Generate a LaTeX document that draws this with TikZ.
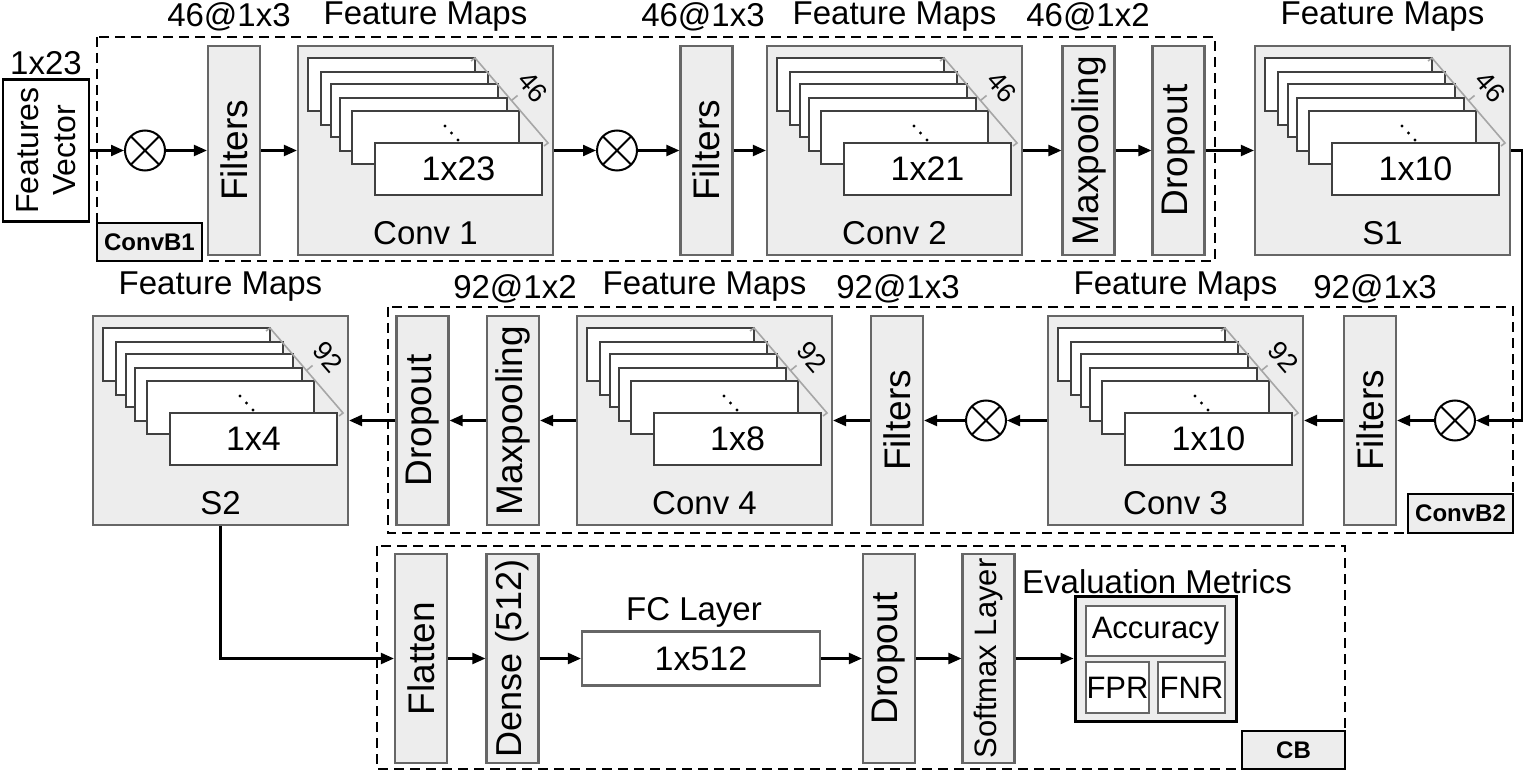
\documentclass[tikz,border=0pt]{standalone}
\usepackage{fontspec}
\setmainfont{Liberation Sans}
\usetikzlibrary{arrows.meta}

\begin{document}
\begin{tikzpicture}[x=1pt,y=-1pt,
  every node/.style={inner sep=0pt},
  lbl/.style={font=\fontsize{33}{36}\selectfont},
  layer/.style={draw=black!60,fill=black!7,line width=2.2pt,rotate=90,minimum width=209pt,minimum height=52pt,font=\fontsize{37}{40}\selectfont},
  fmbox/.style={draw=black!60,fill=black!7,line width=2.2pt,minimum width=255pt,minimum height=209pt},
  sheet/.style={draw=black!75,fill=white,line width=2pt},
  wbox/.style={draw=black!60,fill=white,line width=2.2pt,font=\fontsize{31}{34}\selectfont},
  grp/.style={dash pattern=on 10pt off 6pt,line width=2pt},
  tag/.style={draw,fill=black!7,line width=2pt,font=\fontsize{24}{26}\selectfont\bfseries},
  prod/.style={circle,draw,fill=white,line width=2pt,minimum size=40pt,
    path picture={\draw[line width=2pt] (path picture bounding box.north west) -- (path picture bounding box.south east)
      (path picture bounding box.north east) -- (path picture bounding box.south west);}},
  arr/.style={-{Triangle[length=13pt,width=11pt]},line width=2.2pt},
]
\useasboundingbox (0,0) rectangle (1528,775);

\foreach \id/\L/\T/\num/\sz/\cap in {conv1/298/46/46/1x23/Conv 1,conv2/767/46/46/1x21/Conv 2,s1/1255/46/46/1x10/S1,
  conv3/1048/316/92/1x10/Conv 3,conv4/577/316/92/1x8/Conv 4,s2/93/316/92/1x4/S2}
{
  \begin{scope}[shift={(\L,\T)}]
    \node[fmbox] (\id) at (127.5,104.5) {};
    \foreach \dx/\dy in {10/12,23/26,33/38,42/52,54/65}
      \draw[sheet] (\dx,\dy) rectangle ++(167,53);
    \node[sheet,minimum width=167pt,minimum height=52pt,font=\fontsize{34}{36}\selectfont] at (160.5,123) {\sz};
    \foreach \p in {0,1,2}
      \fill (147+6.5*\p,80+7*\p) circle (1.7);
    \draw[gray!70,line width=1.6pt] (173,15) -- (177,12) -- (250,97) -- (246,100);
    \draw[gray!70,line width=1.6pt] (213.5,54.5) -- (219.5,49.5);
    \node[rotate=-49,font=\fontsize{27}{28}\selectfont] at (235,41) {\num};
    \node[lbl] at (127.5,187) {\cap};
    \node[lbl] at (127.5,-29) {Feature Maps};
  \end{scope}
}

\node[draw,line width=2.2pt,fill=white,rotate=90,minimum width=142pt,minimum height=86pt,align=center,
  font=\fontsize{32}{37}\selectfont] (fv) at (46,150.5) {Features\\Vector};
\node[lbl] at (46,63) {1x23};
\node[prod] (ox1) at (145,150.5) {};
\node[layer] (f1) at (234,150.5) {Filters};
\node[lbl] at (229,17) {46@1x3};
\node[prod] (ox2) at (617,150.5) {};
\node[layer] (f2) at (706.5,150.5) {Filters};
\node[lbl] at (703,17) {46@1x3};
\node[layer] (mp1) at (1088.5,150.5) {Maxpooling};
\node[lbl] at (1088,17) {46@1x2};
\node[layer] (do1) at (1178.5,150.5) {Dropout};
\draw[grp] (97,37) rectangle (1215,261);
\node[tag,minimum width=105pt,minimum height=38pt] (tb1) at (149.5,242) {ConvB1};

\draw[arr] (fv) -- (ox1);
\draw[arr] (ox1) -- (f1);
\draw[arr] (f1) -- (conv1);
\draw[arr] (conv1) -- (ox2);
\draw[arr] (ox2) -- (f2);
\draw[arr] (f2) -- (conv2);
\draw[arr] (conv2) -- (mp1);
\draw[arr] (mp1) -- (do1);
\draw[arr] (do1) -- (s1);

\node[prod] (ox3) at (1455,420.5) {};
\node[layer] (f3) at (1370,420.5) {Filters};
\node[lbl] at (1375,289) {92@1x3};
\node[prod] (ox4) at (986,420.5) {};
\node[layer] (f4) at (897,420.5) {Filters};
\node[lbl] at (898,289) {92@1x3};
\node[layer] (mp2) at (513,420.5) {Maxpooling};
\node[lbl] at (515,289) {92@1x2};
\node[layer] (do2) at (422.5,420.5) {Dropout};
\draw[grp] (388,307) rectangle (1513,533);
\node[tag,minimum width=105pt,minimum height=39pt] (tb2) at (1460.5,513.5) {ConvB2};

\draw[arr] (s1.east) -- ++(11,0) |- (ox3);
\draw[arr] (ox3) -- (f3);
\draw[arr] (f3) -- (conv3);
\draw[arr] (conv3) -- (ox4);
\draw[arr] (ox4) -- (f4);
\draw[arr] (f4) -- (conv4);
\draw[arr] (conv4) -- (mp2);
\draw[arr] (mp2) -- (do2);
\draw[arr] (do2) -- (s2);

\node[layer] (fl) at (421,658.5) {Flatten};
\node[layer,font=\fontsize{36}{40}\selectfont] (de) at (512.5,658.5) {Dense (512)};
\node[wbox,minimum width=238pt,minimum height=54pt,font=\fontsize{34}{36}\selectfont] (fc) at (701,658.5) {1x512};
\node[lbl] at (694,612) {FC Layer};
\node[layer] (do3) at (889,658.5) {Dropout};
\node[layer,font=\fontsize{31}{34}\selectfont] (sm) at (988.5,658.5) {Softmax Layer};
\node[draw,line width=3pt,fill=black!7,minimum width=161pt,minimum height=125pt] (ev) at (1155.5,658.5) {};
\node[wbox,minimum width=139pt,minimum height=50pt] (acc) at (1155.5,631) {Accuracy};
\node[wbox,minimum width=63pt,minimum height=51pt] (fpr) at (1117.5,687.5) {FPR};
\node[wbox,minimum width=67pt,minimum height=51pt] (fnr) at (1191.5,687.5) {FNR};
\node[lbl] at (1157,582) {Evaluation Metrics};
\draw[grp] (377,546) rectangle (1345,769);
\node[tag,minimum width=103pt,minimum height=38pt] (tb3) at (1293.5,750) {CB};

\draw[arr] (s2.south) |- (fl);
\draw[arr] (fl) -- (de);
\draw[arr] (de) -- (fc);
\draw[arr] (fc) -- (do3);
\draw[arr] (do3) -- (sm);
\draw[arr] (sm) -- (ev);
\end{tikzpicture}
\end{document}
